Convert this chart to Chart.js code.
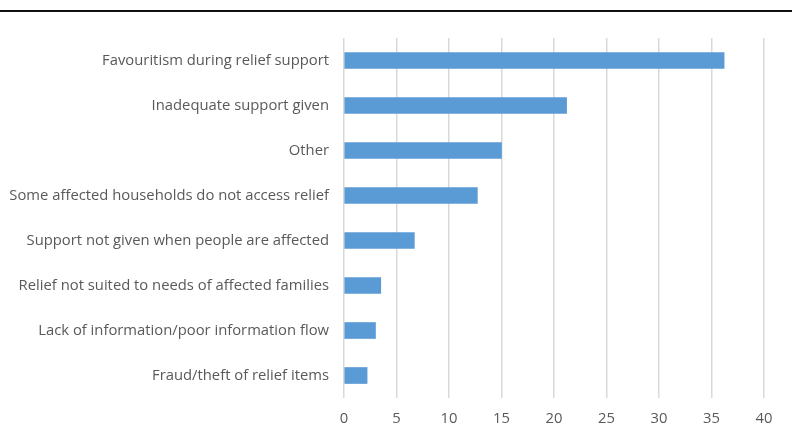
<!DOCTYPE html>
<html>
<head>
<meta charset="utf-8">
<script src="https://cdn.jsdelivr.net/npm/chart.js@4/dist/chart.umd.min.js"></script>
<style>
  html, body { margin: 0; padding: 0; background: #ffffff; }
  #wrap { position: relative; width: 792px; height: 441px; }
  #rule { position: absolute; left: 0; top: 10px; width: 792px; height: 2px; background: #111; }
  canvas { position: absolute; left: 0; top: 0; }
</style>
</head>
<body>
<div id="wrap">
  <canvas id="c" width="792" height="441"></canvas>
  <div id="rule"></div>
</div>
<script>
const categories = [
  "Favouritism during relief support",
  "Inadequate support given",
  "Other",
  "Some affected households do not access relief",
  "Support not given when people are affected",
  "Relief not suited to needs of affected families",
  "Lack of information/poor information flow",
  "Fraud/theft of relief items"
];
const values = [36.2, 21.2, 15.0, 12.7, 6.7, 3.5, 3.0, 2.2];
const xTicks = [0, 5, 10, 15, 20, 25, 30, 35, 40];

new Chart(document.getElementById('c'), {
  type: 'bar',
  data: {
    labels: categories,
    datasets: [{
      data: values,
      backgroundColor: '#5b9bd5',
      borderWidth: 0,
      barThickness: 16
    }]
  },
  options: {
    indexAxis: 'y',
    responsive: false,
    animation: false,
    devicePixelRatio: 1,
    layout: { padding: { top: 38, right: 28, bottom: 0, left: 0 } },
    plugins: { legend: { display: false }, tooltip: { enabled: false } },
    scales: {
      x: {
        min: xTicks[0],
        max: xTicks[xTicks.length - 1],
        afterBuildTicks: (s) => { s.ticks = xTicks.map(v => ({ value: v })); },
        grid: { color: '#d9d9d9', lineWidth: 1.5, drawTicks: false },
        border: { display: false },
        ticks: { color: '#595959', font: { family: 'Open Sans', size: 14.8 }, padding: 12 },
        afterFit: (s) => { s.height = 43; }
      },
      y: {
        grid: { display: false, drawTicks: false },
        border: { display: false },
        ticks: { color: '#595959', font: { family: 'Open Sans', size: 14.8 }, padding: 15 },
        afterFit: (s) => { s.width = 344; }
      }
    }
  }
});
</script>
</body>
</html>
